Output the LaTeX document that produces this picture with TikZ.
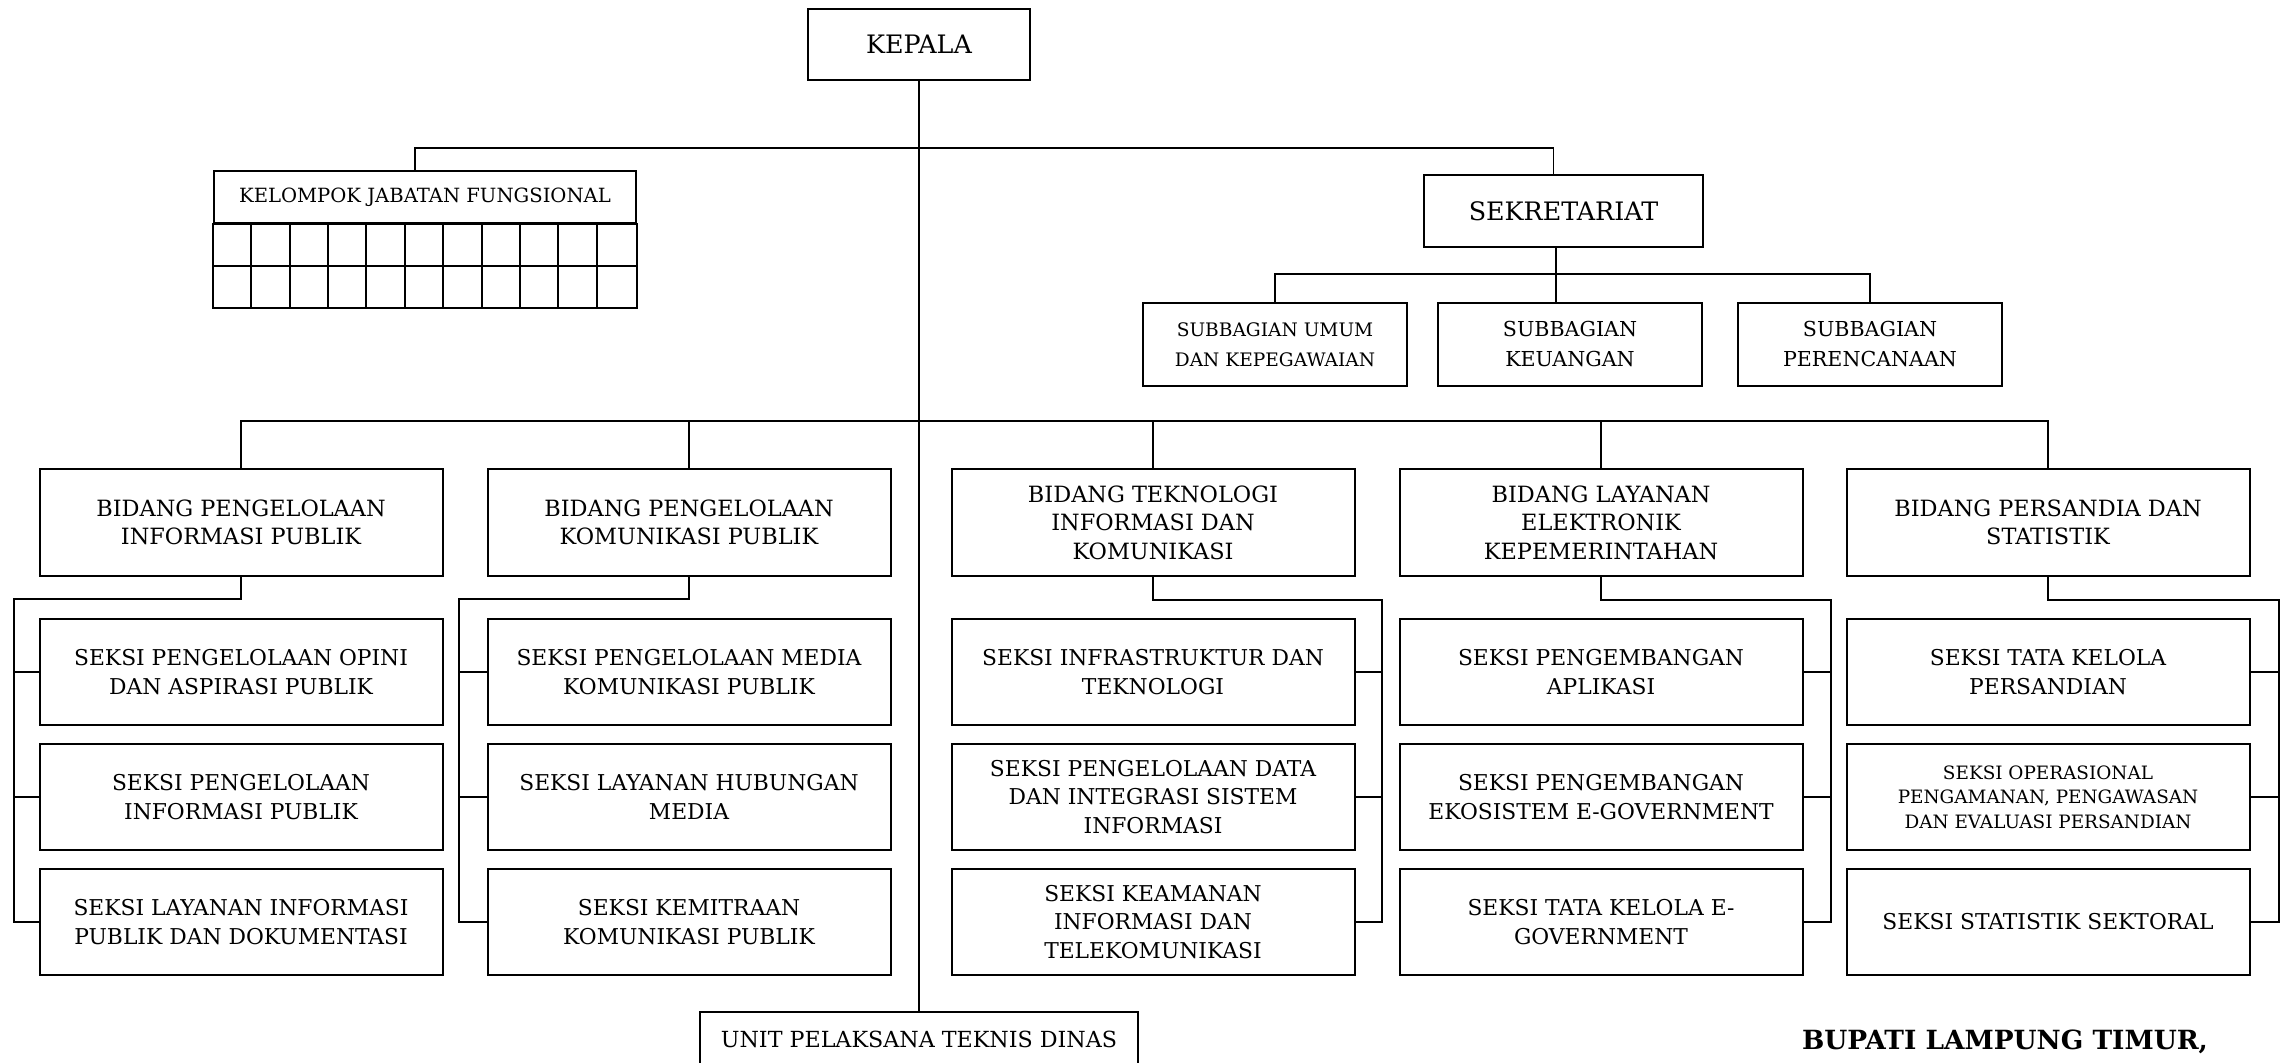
\documentclass[tikz,border=0pt]{standalone}
\usepackage{fontspec}
\setmainfont{DejaVu Serif}
\usetikzlibrary{calc}

\begin{document}
\begin{tikzpicture}[
  x=0.5pt, y=-0.5pt,
  line width=0.8pt,
  box/.style={draw, line width=1pt, rectangle, align=center, inner sep=0pt},
  head/.style={box, font=\fontsize{12.7}{15}\selectfont},
  subbag/.style={box, minimum width=132pt, minimum height=41.5pt, font=\fontsize{10.3}{15}\selectfont},
  bidang/.style={box, minimum width=201.5pt, minimum height=53.5pt, font=\fontsize{11.2}{14.25}\selectfont},
  seksi/.style={box, minimum width=201.5pt, minimum height=53pt, font=\fontsize{10.9}{14.35}\selectfont}
]
  \useasboundingbox (0,0) rectangle (2286,1063);
  \clip (0,0) rectangle (2286,1063);

  % top level
  \node[head, minimum width=111pt, minimum height=35.5pt] (kepala) at (919,44.5) {KEPALA};
  \node[box, minimum width=211pt, minimum height=26pt, font=\fontsize{9.8}{12}\selectfont] (kjf) at (425,197) {KELOMPOK JABATAN FUNGSIONAL};
  \node[head, minimum width=139.5pt, minimum height=36pt] (sekr) at (1563.5,211) {SEKRETARIAT};

  % kelompok jabatan fungsional grid
  \draw[line width=1pt] (kjf.south west) rectangle ($(kjf.south east)+(0,84)$);
  \draw[line width=1pt] ($(kjf.south west)+(0,42)$) -- ($(kjf.south east)+(0,42)$);
  \foreach \i in {1,...,10}
    \draw[line width=1pt] ($(kjf.south west)+(\i*38.36,0)$) -- ++(0,84);

  % subbagian
  \node[subbag, font=\fontsize{9.3}{15}\selectfont] (sb1) at (1275,344.5) {SUBBAGIAN UMUM\\DAN KEPEGAWAIAN};
  \node[subbag] (sb2) at (1570,344.5) {SUBBAGIAN\\KEUANGAN};
  \node[subbag] (sb3) at (1870,344.5) {SUBBAGIAN\\PERENCANAAN};

  % bidang
  \node[bidang] (b1) at (241,522.5) {BIDANG PENGELOLAAN\\INFORMASI PUBLIK};
  \node[bidang] (b2) at (689,522.5) {BIDANG PENGELOLAAN\\KOMUNIKASI PUBLIK};
  \node[bidang] (b3) at (1153,522.5) {BIDANG TEKNOLOGI\\INFORMASI DAN\\KOMUNIKASI};
  \node[bidang] (b4) at (1601,522.5) {BIDANG LAYANAN\\ELEKTRONIK\\KEPEMERINTAHAN};
  \node[bidang] (b5) at (2048,522.5) {BIDANG PERSANDIA DAN\\STATISTIK};

  % seksi
  \node[seksi] (s11) at (241,672) {SEKSI PENGELOLAAN OPINI\\DAN ASPIRASI PUBLIK};
  \node[seksi] (s12) at (241,797) {SEKSI PENGELOLAAN\\INFORMASI PUBLIK};
  \node[seksi] (s13) at (241,922) {SEKSI LAYANAN INFORMASI\\PUBLIK DAN DOKUMENTASI};
  \node[seksi] (s21) at (689,672) {SEKSI PENGELOLAAN MEDIA\\KOMUNIKASI PUBLIK};
  \node[seksi] (s22) at (689,797) {SEKSI LAYANAN HUBUNGAN\\MEDIA};
  \node[seksi] (s23) at (689,922) {SEKSI KEMITRAAN\\KOMUNIKASI PUBLIK};
  \node[seksi] (s31) at (1153,672) {SEKSI INFRASTRUKTUR DAN\\TEKNOLOGI};
  \node[seksi] (s32) at (1153,797) {SEKSI PENGELOLAAN DATA\\DAN INTEGRASI SISTEM\\INFORMASI};
  \node[seksi] (s33) at (1153,922) {SEKSI KEAMANAN\\INFORMASI DAN\\TELEKOMUNIKASI};
  \node[seksi] (s41) at (1601,672) {SEKSI PENGEMBANGAN\\APLIKASI};
  \node[seksi] (s42) at (1601,797) {SEKSI PENGEMBANGAN\\EKOSISTEM E-GOVERNMENT};
  \node[seksi] (s43) at (1601,922) {SEKSI TATA KELOLA E-\\GOVERNMENT};
  \node[seksi] (s51) at (2048,672) {SEKSI TATA KELOLA\\PERSANDIAN};
  \node[seksi, font=\fontsize{9.2}{12.3}\selectfont] (s52) at (2048,797) {SEKSI OPERASIONAL\\PENGAMANAN, PENGAWASAN\\DAN EVALUASI PERSANDIAN};
  \node[seksi] (s53) at (2048,922) {SEKSI STATISTIK SEKTORAL};

  % unit and signature
  \node[box, minimum width=219pt, minimum height=27pt, font=\fontsize{11.1}{14}\selectfont] (upt) at (919,1039) {UNIT PELAKSANA TEKNIS DINAS};
  \node[inner sep=0pt, font=\bfseries\fontsize{13.2}{15}\selectfont] (bupati) at (2005,1042) {BUPATI LAMPUNG TIMUR,};

  % connectors
  \coordinate (tj) at (920,148);
  \coordinate (sj) at (1556,274);
  \coordinate (bj) at (920,421);
  \coordinate (r1) at (14,599);
  \coordinate (r2) at (459,599);
  \coordinate (r3) at (1382,600);
  \coordinate (r4) at (1831,600);
  \coordinate (r5) at (2279,600);

  \draw (kepala.south) -- (upt.north);
  \draw ($(kjf.north)+(-10,0)$) |- (tj) -| ($(sekr.north)+(-10,0)$);
  \draw ($(sekr.south)+(-7.5,0)$) -- (sj) -- (sj |- sb2.north);
  \draw (sb1.north) |- (sj) -| (sb3.north);
  \draw (b1.north) |- (bj) -| (b5.north);
  \foreach \c in {2,3,4}
    \draw (b\c.north) -- (b\c.north |- bj);
  \foreach \c/\side in {1/west,2/west,3/east,4/east,5/east} {
    \draw (b\c.south) |- (r\c) |- (s\c3.\side);
    \foreach \k in {1,2}
      \draw (s\c\k.\side) -- (s\c\k.\side -| r\c);
  }
\end{tikzpicture}
\end{document}
